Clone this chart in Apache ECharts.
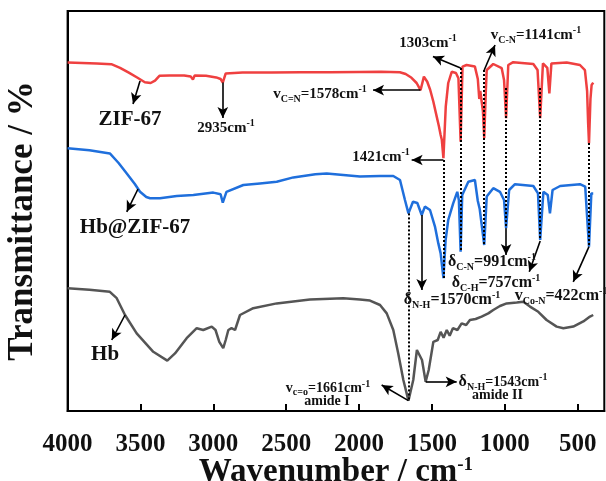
<!DOCTYPE html>
<html>
<head>
<meta charset="utf-8">
<script src="https://cdn.jsdelivr.net/npm/echarts@6/dist/echarts.min.js"></script>
<style>
  html, body { margin: 0; padding: 0; background: #fff; }
  #chart { width: 606px; height: 481px; }
</style>
</head>
<body>
<div id="chart"></div>
<script>
// FTIR spectra: wavenumber (cm-1) and relative transmittance (offset traces)
const zifWn = [4000, 3900, 3800, 3700, 3640, 3580, 3520, 3470, 3430, 3400, 3370, 3300, 3200, 3155, 3140, 3128, 3050, 2980, 2950, 2935, 2915, 2800, 2600, 2400, 2200, 2000, 1850, 1720, 1680, 1640, 1605, 1578, 1555, 1532, 1512, 1490, 1467, 1452, 1440, 1432, 1421, 1405, 1388, 1364, 1335, 1318, 1303, 1290, 1262, 1205, 1185, 1175, 1168, 1150, 1141, 1130, 1124, 1079, 1021, 1005, 991, 976, 942, 804, 775, 757, 738, 708, 694, 680, 575, 484, 450, 435, 428, 422, 412, 404, 393];
const zifT  = [87.1, 87.0, 86.9, 86.7, 85.8, 84.6, 83.3, 82.2, 82.0, 82.6, 83.8, 83.9, 83.9, 83.6, 82.9, 83.9, 83.8, 83.4, 83.0, 82.1, 84.4, 84.6, 84.6, 84.7, 84.7, 84.75, 84.8, 84.7, 84.25, 83.3, 82.0, 80.2, 83.6, 82.3, 80.3, 77.3, 73.6, 71.2, 69.0, 67.8, 63.2, 76.1, 82.0, 84.8, 84.5, 83.2, 67.3, 86.1, 86.5, 86.1, 83.0, 78.0, 80.0, 75.0, 68.2, 80.0, 85.25, 86.75, 85.7, 82.75, 73.2, 86.5, 87.2, 86.75, 85.25, 73.2, 86.9, 85.8, 79.4, 86.9, 87.1, 86.5, 85.2, 80.0, 72.0, 66.9, 78.0, 81.5, 82.1];

const hbzWn = [4000, 3850, 3710, 3650, 3594, 3540, 3503, 3460, 3434, 3366, 3251, 3137, 3000, 2950, 2935, 2910, 2794, 2680, 2565, 2451, 2300, 2222, 2108, 1994, 1856, 1765, 1719, 1685, 1661, 1630, 1600, 1570, 1548, 1513, 1479, 1456, 1440, 1421, 1406, 1388, 1354, 1326, 1315, 1303, 1292, 1250, 1205, 1185, 1172, 1160, 1141, 1124, 1079, 1033, 1005, 991, 970, 930, 804, 772, 757, 735, 705, 690, 672, 620, 484, 448, 422, 406, 393];
const hbzT  = [65.7, 65.2, 64.4, 62.0, 59.4, 56.8, 54.8, 53.5, 53.2, 53.2, 53.75, 54.0, 54.6, 54.2, 52.1, 54.8, 56.5, 56.9, 57.3, 58.4, 59.2, 59.4, 59.0, 58.6, 58.75, 58.75, 57.75, 52.75, 49.4, 52.3, 52.0, 49.0, 51.1, 50.25, 46.1, 41.9, 39.4, 33.2, 42.75, 47.75, 51.9, 54.8, 52.75, 39.8, 54.0, 57.3, 57.75, 52.5, 50.5, 51.0, 41.5, 53.6, 55.7, 54.8, 52.75, 45.7, 55.25, 56.7, 56.25, 54.4, 42.75, 54.8, 54.0, 49.4, 55.25, 56.25, 56.7, 56.1, 41.1, 54.4, 54.4];

const hbWn = [4000, 3850, 3710, 3663, 3606, 3526, 3412, 3316, 3263, 3183, 3114, 3069, 3011, 2985, 2959, 2932, 2915, 2897, 2875, 2851, 2817, 2726, 2565, 2337, 2108, 1994, 1925, 1856, 1810, 1765, 1731, 1696, 1661, 1628, 1603, 1590, 1568, 1543, 1522, 1490, 1460, 1440, 1420, 1398, 1378, 1356, 1325, 1296, 1265, 1239, 1200, 1159, 1113, 1079, 1033, 987, 918, 873, 827, 770, 713, 644, 598, 530, 461, 415, 393];
const hbT  = [30.7, 30.3, 29.8, 28.2, 24.0, 19.4, 14.8, 12.6, 14.4, 18.2, 20.7, 20.25, 21.1, 20.25, 17.3, 15.7, 17.75, 20.25, 20.7, 20.25, 24.0, 25.7, 26.9, 27.9, 28.2, 27.9, 27.6, 26.5, 24.4, 20.25, 14.4, 7.75, 2.6, 7.75, 15.25, 15.7, 12.75, 7.3, 10.25, 17.3, 17.75, 19.8, 18.3, 20.25, 18.8, 20.7, 20.25, 21.9, 21.5, 22.75, 23.0, 23.6, 24.4, 25.25, 26.25, 26.9, 27.1, 27.3, 26.1, 24.8, 22.75, 21.1, 20.7, 21.1, 22.4, 23.6, 24.0];

const xTicks = [4000, 3500, 3000, 2500, 2000, 1500, 1000, 500];

// Peak guide lines: [wavenumber, upper value, lower value]
const guideLines = [
  [1421, 62.75, 33.2],
  [1303, 85.75, 39.8],
  [1141, 85.25, 41.5],
  [991, 80.75, 45.7],
  [757, 80.75, 42.75],
  [422, 67.0, 41.1],
  [1661, 49.4, 2.6]
];

// Arrows: [from wn, from value, to wn, to value]
const arrows = [
  [3503, 82.5, 3551, 76.75],
  [2935, 82.1, 2935, 73.25],
  [1578, 80.2, 1904, 80.2],
  [1303, 85.75, 1493, 88.6],
  [1141, 85.25, 1067, 91.5],
  [1421, 62.75, 1639, 62.75],
  [3517, 55.5, 3594, 49.8],
  [1570, 49.0, 1570, 30.25],
  [991, 45.7, 991, 39.0],
  [757, 42.5, 832, 34.8],
  [422, 41.1, 530, 32.3],
  [3606, 24.0, 3697, 17.75],
  [1661, 2.6, 1845, 6.5],
  [1543, 7.3, 1330, 7.3]
];

// Annotation texts: [wn, value, rich text]
const notes = [
  [3572, 72.75, '{big|ZIF-67}'],
  [2913, 70.75, '{n|2935cm}{sup|-1}'],
  [2268, 79.25, '{n|v}{sub|C=N}{n|=1578cm}{sup|-1}'],
  [1527, 92.0, '{n|1303cm}{sup|-1}'],
  [786, 94.0, '{n|v}{sub|C-N}{n|=1141cm}{sup|-1}'],
  [1849, 63.5, '{n|1421cm}{sup|-1}'],
  [3537, 45.75, '{big|Hb@ZIF-67}'],
  [1362, 27.75, '{m|δ}{sub|N-H}{m|=1570cm}{sup|-1}'],
  [1088, 37.25, '{m|δ}{sub|C-N}{m|=991cm}{sup|-1}'],
  [1060, 32.0, '{m|δ}{sub|C-H}{m|=757cm}{sup|-1}'],
  [614, 28.75, '{m|v}{sub|Co-N}{m|=422cm}{sup|-1}'],
  [3743, 14.0, '{big|Hb}'],
  [2213, 5.75, '{s|v}{sub|c=o}{s|=1661cm}{sup|-1}'],
  [2220, 2.4, '{s|amide I}'],
  [1012, 7.25, '{m|δ}{sub|N-H}{s|=1543cm}{sup|-1}'],
  [1050, 4.0, '{s|amide II}']
];

const serif = '"Liberation Serif", "Times New Roman", serif';

function pairs(xs, ys) { return xs.map((x, i) => [x, ys[i]]); }

const richStyles = {
  big: { fontSize: 21, fontWeight: 'bold', fontFamily: serif, color: '#111', lineHeight: 24 },
  m:   { fontSize: 16, fontWeight: 'bold', fontFamily: serif, color: '#111', lineHeight: 20 },
  n:   { fontSize: 15, fontWeight: 'bold', fontFamily: serif, color: '#111', lineHeight: 20 },
  s:   { fontSize: 14, fontWeight: 'bold', fontFamily: serif, color: '#111', lineHeight: 18 },
  sub: { fontSize: 10, fontWeight: 'bold', fontFamily: serif, color: '#111', lineHeight: 10, verticalAlign: 'bottom' },
  sup: { fontSize: 10, fontWeight: 'bold', fontFamily: serif, color: '#111', lineHeight: 10, verticalAlign: 'top' }
};

const chart = echarts.init(document.getElementById('chart'), null, { renderer: 'canvas' });

chart.setOption({
  backgroundColor: '#ffffff',
  animation: false,
  grid: {
    left: 67.6, right: 1.7, top: 11, bottom: 70,
    outerBoundsMode: 'none',
    show: true, borderColor: '#000', borderWidth: 2, backgroundColor: 'transparent'
  },
  xAxis: {
    type: 'value', inverse: true, min: 317, max: 4000,
    axisLine: { show: true, lineStyle: { color: '#000', width: 2 } },
    axisTick: { show: true, inside: true, length: 7, lineStyle: { color: '#000', width: 2 }, customValues: xTicks },
    axisLabel: {
      customValues: xTicks, margin: 21,
      formatter: v => String(v),
      fontFamily: serif, fontWeight: 'bold', fontSize: 25, color: '#111'
    },
    splitLine: { show: false },
    name: 'Wavenumber / cm{sup|-1}',
    nameLocation: 'middle', nameGap: 45,
    nameMoveOverlap: false,
    nameTextStyle: {
      fontFamily: serif, fontWeight: 'bold', fontSize: 33, color: '#111',
      rich: {
        sup: { fontFamily: serif, fontWeight: 'bold', fontSize: 19, color: '#111', verticalAlign: 'top', lineHeight: 16 }
      }
    }
  },
  yAxis: {
    type: 'value', min: 0, max: 100,
    axisLine: { show: true, lineStyle: { color: '#000', width: 2 } },
    axisTick: { show: false },
    axisLabel: { show: false },
    splitLine: { show: false },
    name: 'Transmittance / %',
    nameLocation: 'middle', nameGap: 27,
    nameTextStyle: {
      fontFamily: serif, fontWeight: 'bold', fontSize: 35, color: '#111',
      padding: [0, 20, 0, 0]
    }
  },
  series: [
    {
      name: 'ZIF-67', type: 'line', showSymbol: false, silent: true,
      data: pairs(zifWn, zifT),
      lineStyle: { color: '#ef4040', width: 2.5 }
    },
    {
      name: 'Hb@ZIF-67', type: 'line', showSymbol: false, silent: true,
      data: pairs(hbzWn, hbzT),
      lineStyle: { color: '#1f6fdc', width: 2.5 }
    },
    {
      name: 'Hb', type: 'line', showSymbol: false, silent: true,
      data: pairs(hbWn, hbT),
      lineStyle: { color: '#555555', width: 2.5 },
      markLine: {
        silent: true, animation: false,
        label: { show: false },
        symbol: ['none', 'none'],
        data: guideLines.map(g => [
          { coord: [g[0], g[1]], lineStyle: { type: [2, 2], color: '#000', width: 2 } },
          { coord: [g[0], g[2]] }
        ]).concat(arrows.map(a => [
          { coord: [a[0], a[1]], symbol: 'none', lineStyle: { type: 'solid', color: '#000', width: 1.6 } },
          { coord: [a[2], a[3]], symbol: 'arrow', symbolSize: [8, 11] }
        ]))
      },
      markPoint: {
        silent: true, animation: false,
        symbol: 'circle', symbolSize: 1,
        itemStyle: { color: 'rgba(0,0,0,0)' },
        label: { show: true, position: 'inside', rich: richStyles },
        data: notes.map(t => ({
          coord: [t[0], t[1]],
          value: 0,
          label: { formatter: t[2] }
        }))
      }
    }
  ]
});
</script>
</body>
</html>
